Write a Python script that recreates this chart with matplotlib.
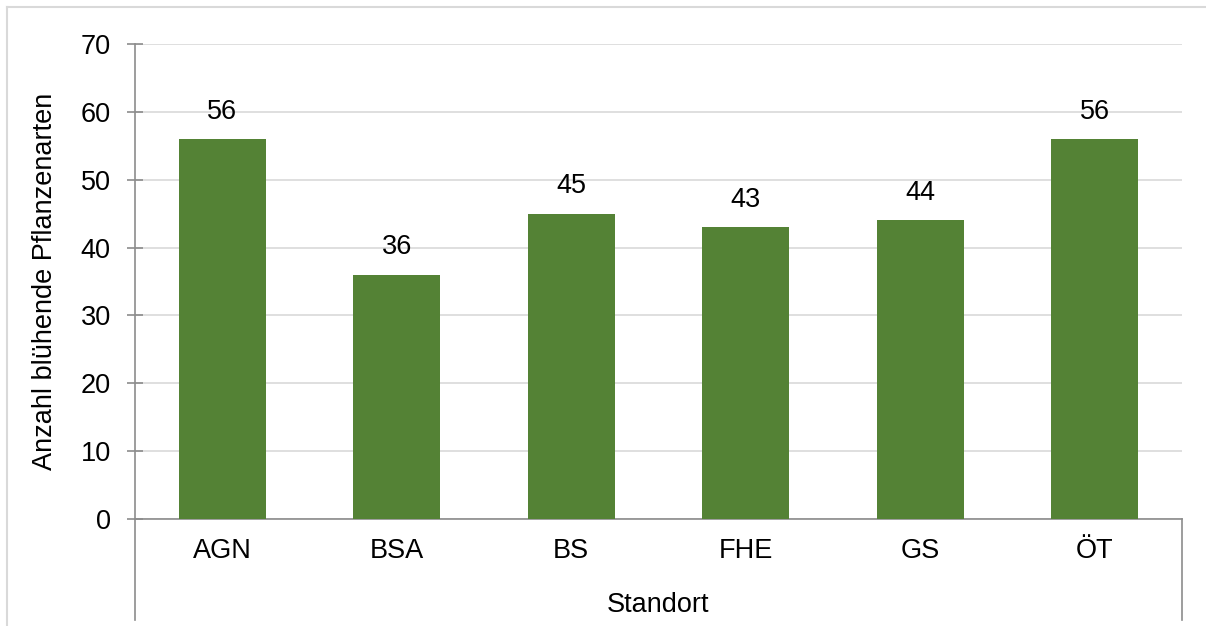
#!/usr/bin/env python3

import matplotlib
matplotlib.use('Agg')
from matplotlib import pyplot as plt
from matplotlib.lines import Line2D

standorte = ['AGN', 'BSA', 'BS', 'FHE', 'GS', 'ÖT']
arten = [56, 36, 45, 43, 44, 56]
y_ticks = [0, 10, 20, 30, 40, 50, 60, 70]

plt.rcParams['font.family'] = ['Liberation Sans', 'DejaVu Sans']
FS = 19.5

W, H = 1206, 626
fig = plt.figure(figsize=(W / 100, H / 100), dpi=100)

# axes box in pixels: x 135..1182, y 44..519
left, right, top, bottom = 135, 1182, 44, 519
ax = fig.add_axes([left / W, 1 - bottom / H, (right - left) / W, (bottom - top) / H])

x = range(len(standorte))
ax.bar(x, arten, width=0.5, color='#548235', zorder=3)
for xi, v in zip(x, arten):
    ax.text(xi, v + 2.1, str(v), ha='center', va='bottom', fontsize=FS)

ax.set_xlim(-0.5, len(standorte) - 0.5)
ax.set_ylim(0, 70)
ax.set_yticks(y_ticks)
ax.set_xticks(list(x))
ax.set_xticklabels(standorte)
ax.grid(axis='y', color='#d9d9d9', linewidth=1.2, zorder=0)

for s in ['top', 'right']:
    ax.spines[s].set_visible(False)
for s in ['left', 'bottom']:
    ax.spines[s].set_color('#8c8c8c')
    ax.spines[s].set_linewidth(1.2)

ax.tick_params(axis='y', direction='inout', length=11, width=1.2, color='#8c8c8c',
               labelsize=FS, pad=12)
ax.tick_params(axis='x', length=0, labelsize=FS, pad=14)

ax.set_ylabel('Anzahl blühende Pflanzenarten', fontsize=FS, labelpad=16)
ax.set_xlabel('Standort', fontsize=FS, labelpad=20)

# vertical lines below the axis at both ends
depth = (620 - bottom) / (bottom - top)
for xe in (0, 1):
    ax.add_line(Line2D([xe, xe], [0, -depth], transform=ax.transAxes,
                       color='#8c8c8c', linewidth=1.2, clip_on=False))

# outer chart border (left and top visible)
fig.add_artist(Line2D([7 / W, 7 / W], [0, 1 - 7 / H], transform=fig.transFigure,
                      color='#d9d9d9', linewidth=1.5))
fig.add_artist(Line2D([7 / W, 1], [1 - 7 / H, 1 - 7 / H], transform=fig.transFigure,
                      color='#d9d9d9', linewidth=1.5))

fig.savefig('out.png', dpi=100)
